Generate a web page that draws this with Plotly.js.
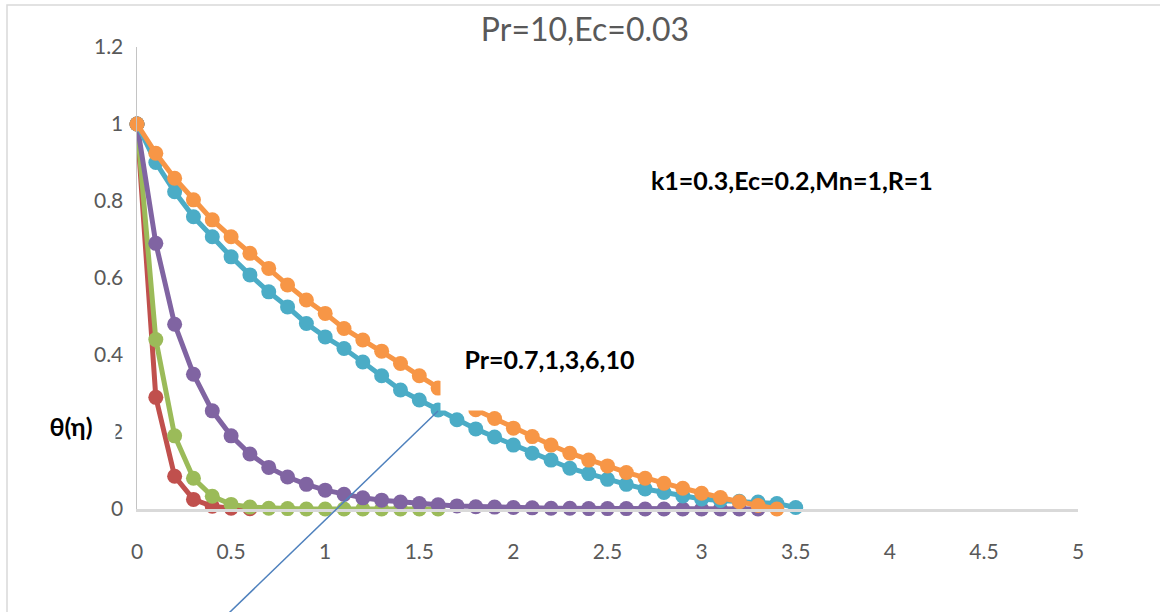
<!DOCTYPE html>
<html>
<head>
<meta charset="utf-8">
<script src="https://cdn.plot.ly/plotly-3.0.1.min.js"></script>
<style>
  html, body { margin: 0; padding: 0; background: #ffffff; }
  #chart { width: 1160px; height: 612px; }
</style>
</head>
<body>
<div id="chart"></div>
<script>
// eta grid (x values shared by all series)
const eta = [0, 0.1, 0.2, 0.3, 0.4, 0.5, 0.6, 0.7, 0.8, 0.9, 1.0, 1.1, 1.2, 1.3, 1.4, 1.5, 1.6, 1.7, 1.8, 1.9,
             2.0, 2.1, 2.2, 2.3, 2.4, 2.5, 2.6, 2.7, 2.8, 2.9, 3.0, 3.1, 3.2, 3.3, 3.4, 3.5];

// theta(eta) for Pr = 10, 6, 3, 1, 0.7
const thetaPr10 = [1, 0.29, 0.085, 0.025, 0.007, 0.002, 0.0005];
const thetaPr6  = [1, 0.44, 0.19, 0.08, 0.033, 0.012, 0.005, 0.002, 0.001, 0, 0, 0, 0, 0, 0, 0, 0];
const thetaPr3  = [1, 0.69, 0.48, 0.35, 0.255, 0.19, 0.143, 0.108, 0.083, 0.064, 0.049, 0.038, 0.029, 0.023,
                   0.018, 0.014, 0.011, 0.008, 0.006, 0.005, 0.004, 0.003, 0.002, 0.002, 0.001, 0.001, 0.001,
                   0, 0, 0, 0, 0, 0, 0];
const thetaPr1  = [1, 0.90, 0.824, 0.759, 0.707, 0.655, 0.608, 0.564, 0.525, 0.482, 0.447, 0.417, 0.382, 0.346,
                   0.309, 0.283, 0.257, 0.232, 0.208, 0.187, 0.166, 0.145, 0.127, 0.106, 0.092, 0.077, 0.064,
                   0.052, 0.043, 0.034, 0.026, 0.022, 0.020, 0.018, 0.014, 0.004];
const thetaPr07 = [1, 0.924, 0.859, 0.803, 0.751, 0.707, 0.664, 0.625, 0.582, 0.543, 0.508, 0.469, 0.439, 0.410,
                   0.378, 0.346, 0.314, 0.285, 0.258, 0.235, 0.210, 0.188, 0.166, 0.145, 0.127, 0.112, 0.095,
                   0.080, 0.067, 0.054, 0.041, 0.030, 0.019, 0.009, 0.0];

const seriesNames  = ['Pr=10', 'Pr=6', 'Pr=3', 'Pr=1', 'Pr=0.7'];
const seriesValues = [thetaPr10, thetaPr6, thetaPr3, thetaPr1, thetaPr07];
const seriesColors = ['#C0504D', '#9BBB59', '#8064A2', '#4BACC6', '#F79646'];

const chartTitle = 'Pr=10,Ec=0.03';
const paramLabel = 'k1=0.3,Ec=0.2,Mn=1,R=1';
const prLabel = 'Pr=0.7,1,3,6,10';
const yLabel = 'θ(η)';

const traces = seriesValues.map((vals, i) => ({
  type: 'scatter',
  mode: 'lines+markers',
  name: seriesNames[i],
  x: eta.slice(0, vals.length),
  y: vals,
  line: { color: seriesColors[i], width: 5 },
  marker: { color: seriesColors[i], size: 15 },
  cliponaxis: false,
  hoverinfo: 'x+y+name'
}));

// plot-area geometry helpers (pixels -> paper)
const L = 137, R = 82, T = 47, B = 103, W = 1160, H = 612;
const pw = W - L - R, ph = H - T - B;
const px = v => (v - L) / pw;
const py = v => (H - B - v) / ph;

const fontFam = 'Lato, "Noto Sans", "DejaVu Sans", sans-serif';

const layout = {
  width: W, height: H,
  margin: { l: L, r: R, t: T, b: B, pad: 0 },
  paper_bgcolor: '#ffffff',
  plot_bgcolor: '#ffffff',
  showlegend: false,
  title: {
    text: chartTitle,
    font: { family: fontFam, size: 32, color: '#595959' },
    x: 585 / W, xref: 'container', xanchor: 'center',
    y: 1 - 30 / H, yref: 'container', yanchor: 'middle'
  },
  xaxis: {
    range: [0, 5], dtick: 0.5, tick0: 0,
    showgrid: false, zeroline: false,
    showline: true, linecolor: '#d9d9d9', linewidth: 2.5,
    ticks: 'outside', ticklen: 22, tickcolor: 'rgba(0,0,0,0)',
    tickfont: { family: fontFam, size: 21, color: '#595959' },
    fixedrange: true
  },
  yaxis: {
    range: [0, 1.2], dtick: 0.2, tick0: 0,
    showgrid: false, zeroline: false,
    showline: true, linecolor: '#c4c4c4', linewidth: 1.5,
    ticks: 'outside', ticklen: 8, tickcolor: 'rgba(0,0,0,0)',
    tickfont: { family: fontFam, size: 21, color: '#595959' },
    fixedrange: true
  },
  shapes: [
    // chart border (outer frame, only top & left inside the picture)
    { type: 'rect', xref: 'paper', yref: 'paper',
      x0: px(7), x1: px(1175), y0: py(5), y1: py(630),
      line: { color: '#d9d9d9', width: 1.5 }, fillcolor: 'rgba(0,0,0,0)', layer: 'below' },
    // leader line from the Pr label area
    { type: 'line', xref: 'paper', yref: 'paper',
      x0: px(438), y0: py(411), x1: px(200), y1: py(641),
      line: { color: '#4F81BD', width: 1.5 } }
  ],
  annotations: [
    { text: '<b>' + paramLabel + '</b>', xref: 'paper', yref: 'paper',
      x: px(792), y: py(180), xanchor: 'center', yanchor: 'middle', showarrow: false,
      font: { family: fontFam, size: 25, color: '#000000' } },
    { text: '<b>' + prLabel + '</b>', xref: 'paper', yref: 'paper',
      x: px(549.5), y: py(359), xanchor: 'center', yanchor: 'middle', showarrow: false,
      width: 217, height: 102, borderpad: 0, bgcolor: '#ffffff', align: 'center', valign: 'middle',
      font: { family: fontFam, size: 25, color: '#000000' } },
    { text: '<b>' + yLabel + '</b>', xref: 'paper', yref: 'paper',
      x: px(71), y: py(426), xanchor: 'center', yanchor: 'middle', showarrow: false,
      width: 88, height: 40, borderpad: 0, bgcolor: '#ffffff', align: 'center', valign: 'middle',
      font: { family: fontFam, size: 25, color: '#000000' } }
  ]
};

Plotly.newPlot('chart', traces, layout, { displayModeBar: false, staticPlot: true });
</script>
</body>
</html>
